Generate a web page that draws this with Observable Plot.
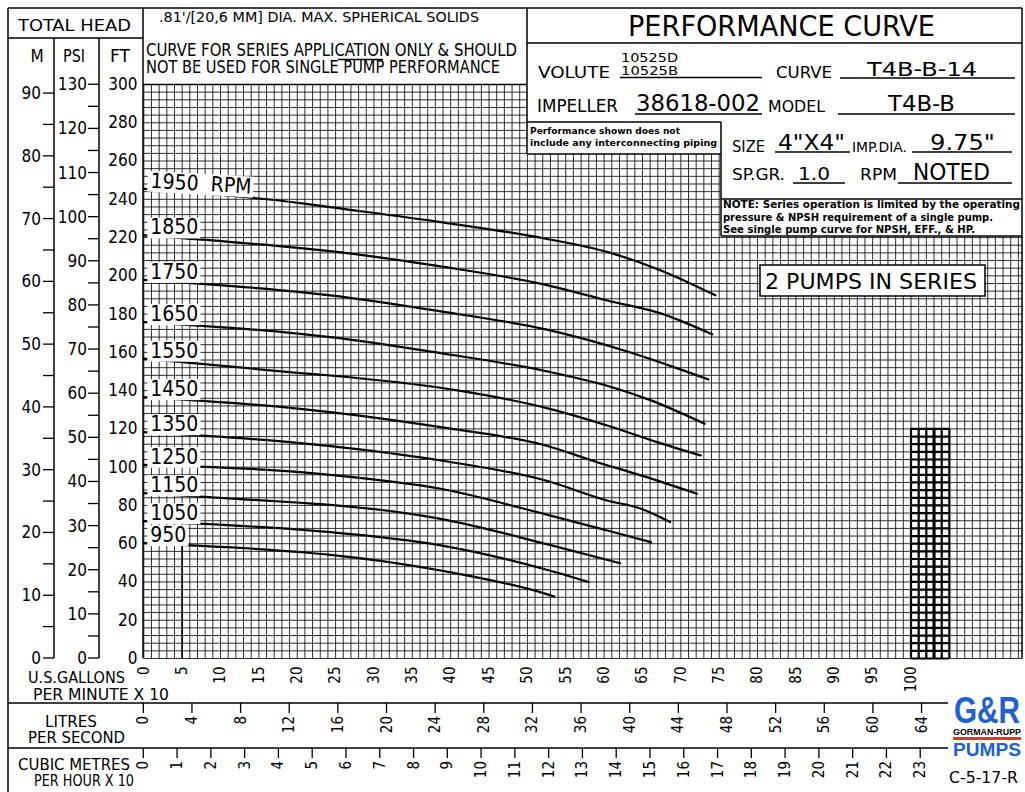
<!DOCTYPE html>
<html><head><meta charset="utf-8">
<script src="https://cdn.jsdelivr.net/npm/d3@7"></script>
<script src="https://cdn.jsdelivr.net/npm/@observablehq/plot@0.6"></script>
<style>
html,body{margin:0;padding:0;background:#fff;}
svg{display:block;}
</style></head><body><div id="chart"></div>
<script>
const FONT = '"DejaVu Sans Condensed","DejaVu Sans",sans-serif';

// ---- data: flow (U.S. GPM x 10) and total head (ft) for each speed ----
const speeds = [1950, 1850, 1750, 1650, 1550, 1450, 1350, 1250, 1150, 1050, 950];
const speedLabels = ["1950\u00a0\u00a0RPM", "1850", "1750", "1650", "1550", "1450", "1350", "1250", "1150", "1050", "950"];
const flow1950 = [0, 20.4, 24.3, 38.7, 52.4, 60.5, 67.4, 70.4, 74.5];
const head1950 = [245.5, 238.0, 235.9, 228.1, 219.4, 212.4, 202.8, 197.6, 189.8];
const flow1850 = [0, 20.4, 24.3, 38.7, 52.4, 60.4, 68.2, 70.4, 74.1];
const head1850 = [221.1, 214.5, 212.9, 204.9, 195.3, 187.1, 179.3, 175.8, 169.4];
const flow1750 = [0, 20.4, 24.3, 38.7, 52.4, 62.6, 69.1, 73.6];
const head1750 = [197.9, 191.5, 189.8, 181.4, 172.0, 161.0, 152.3, 145.8];
const flow1650 = [0, 20.4, 24.3, 38.7, 52.4, 61.7, 66.1, 73.1];
const head1650 = [175.8, 169.7, 168.0, 159.6, 150.2, 141.0, 134.9, 122.7];
const flow1550 = [0, 20.4, 24.3, 40.9, 52.4, 60.4, 66.9, 72.6];
const head1550 = [156.7, 149.2, 147.9, 140.1, 131.0, 121.8, 113.1, 106.1];
const flow1450 = [0, 20.4, 24.3, 38.7, 52.4, 59.1, 64.8, 72.1];
const head1450 = [136.6, 130.5, 128.8, 120.9, 111.3, 102.6, 95.7, 86.1];
const flow1350 = [0, 20.4, 24.3, 38.7, 52.4, 60.4, 64.8, 68.6];
const head1350 = [118.3, 112.6, 111.0, 103.5, 93.0, 82.6, 78.3, 71.3];
const flow1250 = [0, 20.4, 24.3, 38.7, 52.4, 60.4, 66.1];
const head1250 = [101.2, 97.4, 96.0, 88.7, 75.3, 66.9, 60.8];
const flow1150 = [0, 20.4, 24.3, 38.7, 52.4, 62.1];
const head1150 = [86.4, 81.4, 80.3, 73.0, 59.9, 49.8];
const flow1050 = [0, 20.4, 24.3, 38.7, 52.4, 58.0];
const head1050 = [71.8, 67.3, 66.0, 59.1, 46.5, 39.9];
const flow950 = [0, 20.4, 24.3, 38.7, 52.4, 53.5];
const head950 = [60.3, 55.6, 54.2, 46.0, 33.8, 32.4];

// ---- tick labels ----
const ftTicks = d3.range(0, 301, 20);
const gpmTicks = d3.range(0, 101, 5);
const meterTicks = d3.range(0, 91, 5);
const psiTicks = d3.range(0, 131, 5);
const lpsTicks = d3.range(0, 65, 4);
const m3hTicks = d3.range(0, 24, 1);
const gridFlow = d3.range(0, 115, 1);
const gridHead = d3.range(0, 301, 4);
const gridFlowMax = 114.6;

// unit conversions (to ft and to GPM x 10)
const FT_PER_M = 3.28084, FT_PER_PSI = 2.30666;
const Q_PER_LPS = 1.58503, Q_PER_M3H10 = 4.40287;

const flows = [flow1950, flow1850, flow1750, flow1650, flow1550, flow1450, flow1350, flow1250, flow1150, flow1050, flow950];
const heads = [head1950, head1850, head1750, head1650, head1550, head1450, head1350, head1250, head1150, head1050, head950];
const curves = speeds.map((s, i) => flows[i].map((q, j) => ({rpm: s, q, h: heads[i][j]})));
const labels = speeds.map((s, i) => ({rpm: s, text: speedLabels[i], q: 0.85, h: heads[i][0], rot: i === 0 ? 3.3 : 0}));

const chart = Plot.plot({
  width: 1025, height: 792,
  marginLeft: 143, marginRight: 3, marginTop: 84, marginBottom: 134,
  style: {fontFamily: FONT, background: "white", color: "black", overflow: "visible"},
  x: {domain: [0, 100], range: [143.3, 910.5], label: null},
  y: {domain: [0, 300], range: [658, 84], label: null},
  marks: [
    Plot.ruleX(gridFlow, {y1: 0, y2: 300, stroke: "#111", strokeWidth: 1, strokeOpacity: 0.88}),
    Plot.ruleY(gridHead, {x1: 0, x2: gridFlowMax, stroke: "#111", strokeWidth: 1, strokeOpacity: 0.88}),
    Plot.ruleX([5], {y1: 0, y2: 60, stroke: "#000", strokeWidth: 1.6}),
    Plot.ruleX(d3.range(100, 106), {y1: 0, y2: 120, stroke: "#000", strokeWidth: 2.2}),
    Plot.ruleX([103], {y1: 0, y2: 120, stroke: "#000", strokeWidth: 3}),
    Plot.ruleY(d3.range(0, 121, 4), {x1: 100, x2: 105, stroke: "#000", strokeWidth: 2.2}),
    ...curves.map(c => Plot.line(c, {x: "q", y: "h", curve: "monotone-x", stroke: "#000", strokeWidth: 2.2})),
    Plot.text(labels, {x: "q", y: "h", text: "text", rotate: "rot", dy: -1, textAnchor: "start", lineAnchor: "bottom", fontSize: 21, fill: "#000"}),
    Plot.axisY(ftTicks, {anchor: "left", tickSize: 0, tickPadding: 6, fontSize: 17, label: null}),
    Plot.axisX(gpmTicks, {anchor: "bottom", tickSize: 0, tickRotate: -90, tickPadding: 8, fontSize: 15, label: null})
  ]
});
document.getElementById("chart").append(chart);

// white boxes behind speed labels
chart.querySelectorAll('g[aria-label="text"] text').forEach(el => {
  const b = el.getBBox();
  const r = document.createElementNS("http://www.w3.org/2000/svg", "rect");
  r.setAttribute("x", b.x - 3); r.setAttribute("y", b.y + 2);
  r.setAttribute("width", b.width + 5); r.setAttribute("height", b.height - 3);
  r.setAttribute("fill", "white"); r.setAttribute("stroke", "none");
  const tr = el.getAttribute("transform"); if (tr) r.setAttribute("transform", tr);
  el.parentNode.insertBefore(r, el);
});

const xS = chart.scale("x"), yS = chart.scale("y");
const svg = d3.select(chart);
const g = svg.append("g").attr("font-family", FONT).attr("fill", "#000").attr("text-anchor", "start");

function T(x, y, s, size, o = {}) {
  const t = g.append("text").attr("x", x).attr("y", y).attr("font-size", size)
    .attr("text-anchor", o.anchor || "start").text(s);
  if (o.len) t.attr("textLength", o.len).attr("lengthAdjust", "spacingAndGlyphs");
  if (o.weight) t.attr("font-weight", o.weight);
  if (o.fill) t.attr("fill", o.fill);
  if (o.family) t.attr("font-family", o.family);
  return t;
}
function L(x1, y1, x2, y2, w = 1.5) {
  g.append("line").attr("x1", x1).attr("y1", y1).attr("x2", x2).attr("y2", y2)
    .attr("stroke", "#000").attr("stroke-width", w);
}
function R(x, y, w, h, stroke = true) {
  g.append("rect").attr("x", x).attr("y", y).attr("width", w).attr("height", h)
    .attr("fill", "white").attr("stroke", stroke ? "#000" : "none").attr("stroke-width", 1.5);
}

// header white panels (cover the grid)
R(527, 8, 495, 114, false);
R(720, 120, 302, 116, false);
R(527, 120, 195, 34, false);

// frame lines
L(8, 8, 1022, 8); L(8, 8, 8, 792); L(1022, 8, 1022, 658);
L(8, 38, 143, 38); L(143, 8, 143, 658);
L(54, 38, 54, 658); L(99, 38, 99, 658);
L(143, 84.5, 527, 84.5); L(527, 8, 527, 154);
L(527, 43, 1022, 43);
L(527, 122, 721, 122); L(527, 154, 721, 154); L(721, 122, 721, 236);
L(721, 199, 1022, 199); L(721, 236, 1022, 236);
L(8, 703, 948, 703); L(8, 748, 948, 748);

// left header
T(18, 31, "TOTAL HEAD", 16, {len: 113});
T(37, 62, "M", 17, {anchor: "middle"});
T(74, 62, "PSI", 17, {anchor: "middle", len: 22});
T(120, 62, "FT", 17, {anchor: "middle", len: 20});

// middle header
T(159, 22, ".81'/[20,6 MM] DIA. MAX. SPHERICAL SOLIDS", 14, {len: 320});
T(146, 55.5, "CURVE FOR SERIES APPLICATION ONLY & SHOULD", 18, {len: 371});
L(338, 59.5, 383, 59.5, 1.3);
T(146, 72.5, "NOT BE USED FOR SINGLE PUMP PERFORMANCE", 18, {len: 354});

// right header
T(628, 36, "PERFORMANCE CURVE", 29, {len: 307});
T(538, 78, "VOLUTE", 15.5, {len: 72});
T(621, 62, "10525D", 12.5, {len: 57});
T(621, 75, "10525B", 12.5, {len: 57});
L(620, 77.5, 762, 77.5, 1.3);
T(776, 78, "CURVE", 15.5, {len: 56});
L(840, 78, 1015, 78, 1.3);
T(867, 76, "T4B-B-14", 19.5, {len: 110});
T(537, 112, "IMPELLER", 17.5, {len: 81});
T(636, 111, "38618-002", 23, {len: 124});
L(635, 114, 762, 114, 1.3);
T(768, 112, "MODEL", 16.5, {len: 57});
L(838, 114, 1015, 114, 1.3);
T(888, 111, "T4B-B", 20.5, {len: 67});
const noteFam = '"DejaVu Sans",sans-serif';
T(530, 134, "Performance shown does not", 9.5, {len: 150, weight: "bold", family: noteFam});
T(530, 146, "include any interconnecting piping", 9.5, {len: 187, weight: "bold", family: noteFam});
T(732, 151.5, "SIZE", 16, {len: 33});
T(778, 150, "4\"X4\"", 20.5, {len: 67});
L(775, 152, 850, 152, 1.3);
T(852, 152, "IMP.DIA.", 14, {len: 55});
T(930, 150, "9.75\"", 20.5, {len: 65});
L(912, 152, 1012, 152, 1.3);
T(732, 180, "SP.GR.", 16.5, {len: 53});
T(798, 180, "1.0", 18, {len: 32});
L(793, 183, 845, 183, 1.3);
T(860, 180, "RPM", 16.5, {len: 37});
T(913, 180, "NOTED", 23, {len: 77});
L(898, 183, 1012, 183, 1.3);
T(723, 208, "NOTE: Series operation is limited by the operating", 10, {len: 297, weight: "bold", family: noteFam});
T(723, 220.5, "pressure & NPSH requirement of a single pump.", 10, {len: 270, weight: "bold", family: noteFam});
T(723, 233, "See single pump curve for NPSH, EFF., & HP.", 10, {len: 252, weight: "bold", family: noteFam});

// 2 pumps in series box
R(760, 265, 225, 31);
T(765, 289, "2 PUMPS IN SERIES", 21, {len: 212});

// left secondary axes (metres, psi) through the y scale
meterTicks.forEach(m => {
  const y = yS.apply(m * FT_PER_M);
  L(43, y, 54, y, 1.3);
  if (m % 10 === 0) T(41, y, String(m), 17, {anchor: "end"}).attr("dominant-baseline", "central");
});
psiTicks.forEach(p => {
  const y = yS.apply(p * FT_PER_PSI);
  L(88, y, 99, y, 1.3);
  if (p % 10 === 0) T(87, y, String(p), 17, {anchor: "end"}).attr("dominant-baseline", "central");
});

// bottom secondary axes (litres/s, m3/h x10) through the x scale
lpsTicks.forEach(l => {
  const x = xS.apply(l * Q_PER_LPS);
  L(x, 703, x, 713, 1.3);
  T(0, 0, String(l), 15, {anchor: "end"}).attr("dominant-baseline", "central")
    .attr("transform", `translate(${x},716) rotate(-90)`);
});
m3hTicks.forEach(v => {
  const x = xS.apply(v * Q_PER_M3H10);
  L(x, 748, x, 758, 1.3);
  T(0, 0, String(v), 15, {anchor: "end"}).attr("dominant-baseline", "central")
    .attr("transform", `translate(${x},761) rotate(-90)`);
});

// axis titles
T(28, 683, "U.S.GALLONS", 16, {len: 97});
T(33, 700, "PER MINUTE X 10", 16, {len: 136});
T(45, 727, "LITRES", 16, {len: 52});
T(28, 743, "PER SECOND", 16, {len: 97});
T(18, 770, "CUBIC METRES", 15.5, {len: 112});
T(34, 786, "PER HOUR X 10", 15.5, {len: 100});

// logo and drawing number
const logoFam = '"Liberation Sans Narrow","Liberation Sans",sans-serif';
T(954, 723, "G&R", 37, {weight: "bold", fill: "#1f5fd0", len: 66, family: logoFam});
T(953, 735, "GORMAN-RUPP", 9, {weight: "bold", len: 68, family: logoFam});
g.append("rect").attr("x", 953).attr("y", 737).attr("width", 68).attr("height", 3).attr("fill", "#e8322a");
T(953, 756, "PUMPS", 19, {weight: "bold", fill: "#1f5fd0", len: 68, family: logoFam});
T(949, 783, "C-5-17-R", 15, {len: 69});
</script></body></html>
